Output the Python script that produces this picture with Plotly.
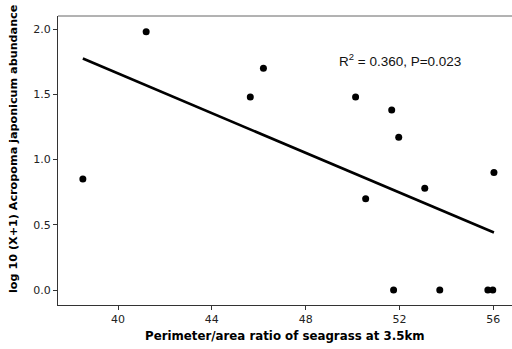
import numpy as np
import plotly.graph_objects as go

# Perimeter/area ratio of seagrass (3.5 km buffer) and log10(X+1) abundance
ratio = [38.5, 41.2, 45.64, 46.2, 50.13, 51.67, 51.97, 56.03,
         50.56, 53.08, 51.75, 53.72, 55.77, 55.98]
abundance = [0.85, 1.98, 1.48, 1.70, 1.48, 1.38, 1.17, 0.90,
             0.70, 0.78, 0.0, 0.0, 0.0, 0.0]
x_ticks = [40, 44, 48, 52, 56]
y_ticks = [0.0, 0.5, 1.0, 1.5, 2.0]
stats_label = "R<sup>2</sup> = 0.360, P=0.023"

# least-squares regression line over the observed range
slope, intercept = np.polyfit(ratio, abundance, 1)
fit_x = np.array([min(ratio), max(ratio)])
fit_y = slope * fit_x + intercept

fig = go.Figure()
fig.add_trace(go.Scatter(
    x=fit_x, y=fit_y, mode="lines",
    line=dict(color="black", width=2.6), hoverinfo="skip"))
fig.add_trace(go.Scatter(
    x=ratio, y=abundance, mode="markers",
    marker=dict(color="black", size=7)))

tick_font = dict(family="DejaVu Sans, Verdana, sans-serif", size=11, color="#222")
axis_common = dict(
    showgrid=False, zeroline=False, showline=True, linecolor="#333", linewidth=1,
    ticks="outside", ticklen=4, tickcolor="#333", tickfont=tick_font)

fig.update_xaxes(range=[37.44, 56.8], tickvals=x_ticks,
                 ticktext=[str(v) for v in x_ticks], **axis_common)
fig.update_yaxes(range=[-0.115, 2.1], tickvals=y_ticks,
                 ticktext=[f"{v:.1f}" for v in y_ticks], **axis_common)

# top frame line
fig.add_shape(type="line", xref="paper", yref="paper", x0=0, x1=1, y0=1, y1=1,
              line=dict(color="#666", width=1))

title_font = dict(family="DejaVu Sans, Verdana, sans-serif", size=11.8, color="black")
fig.add_annotation(
    text="<b>Perimeter/area ratio of seagrass at 3.5km</b>",
    xref="paper", yref="paper", x=0.5, y=-31 / 289, yanchor="middle",
    showarrow=False, font=title_font)
fig.add_annotation(
    text="<b>log 10 (X+1) Acropoma japonicum abundance</b>",
    xref="paper", yref="paper", x=-44 / 454, y=(305 - 149) / 289,
    xanchor="center", yanchor="middle", textangle=-90,
    showarrow=False, font=dict(title_font, size=11.2))
fig.add_annotation(
    text=stats_label, xref="paper", yref="paper",
    x=(400 - 58) / 454, y=(305 - 60) / 289, xanchor="center", yanchor="middle",
    showarrow=False,
    font=dict(family="Liberation Sans, Arial, sans-serif", size=13.5, color="#111"))

fig.update_layout(
    width=512, height=349, showlegend=False,
    margin=dict(l=58, r=0, t=16, b=44),
    paper_bgcolor="white", plot_bgcolor="white")

fig.write_html("out.html")
